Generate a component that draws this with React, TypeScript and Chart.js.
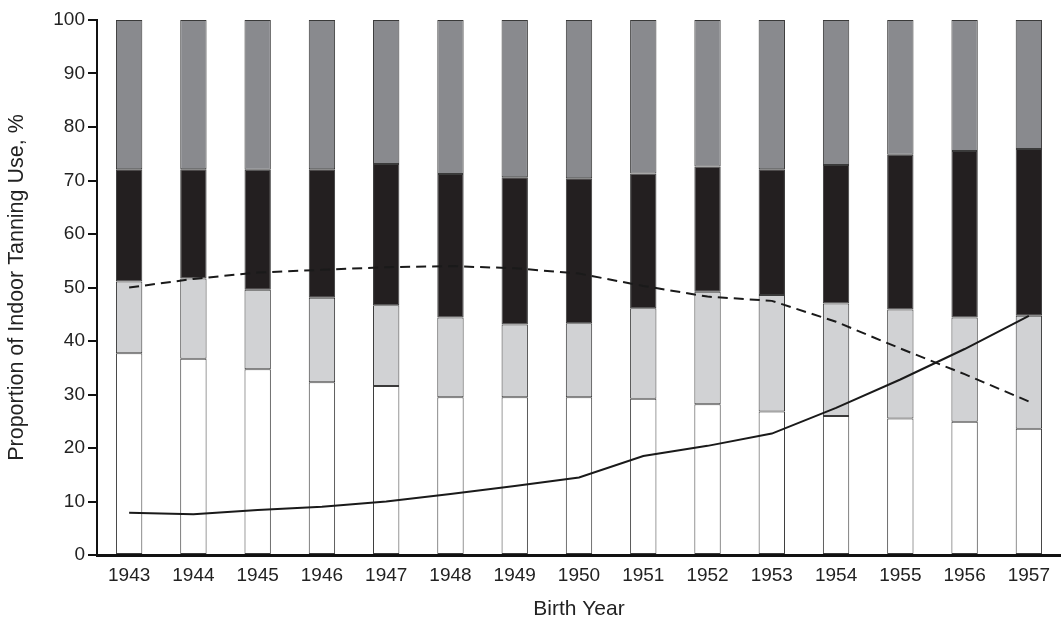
import React, { useEffect, useRef } from "react";
import { Chart, registerables } from "chart.js";

Chart.register(...registerables);

const years = ["1943","1944","1945","1946","1947","1948","1949","1950","1951","1952","1953","1954","1955","1956","1957"];
// cumulative tops, converted to segment values below
const whiteSeg = [37.7, 36.7, 34.7, 32.3, 31.6, 29.5, 29.5, 29.5, 29.2, 28.2, 26.8, 26.0, 25.5, 24.9, 23.6];
const lightTop = [51.1, 51.7, 49.6, 48.1, 46.7, 44.4, 43.1, 43.3, 46.1, 49.2, 48.6, 47.0, 45.9, 44.4, 44.7];
const blackTop = [72.1, 72.1, 72.0, 72.1, 73.1, 71.2, 70.6, 70.4, 71.3, 72.6, 72.1, 72.9, 74.8, 75.5, 75.9];
const dashedLine = [50.0, 51.6, 52.8, 53.3, 53.8, 54.0, 53.6, 52.6, 50.3, 48.3, 47.5, 43.6, 38.6, 33.8, 28.7];
const solidLine = [7.9, 7.6, 8.4, 9.0, 10.0, 11.4, 12.9, 14.5, 18.5, 20.4, 22.7, 27.5, 32.8, 38.5, 44.7];
const yTicks = [0, 10, 20, 30, 40, 50, 60, 70, 80, 90, 100];

const lightSeg = lightTop.map((v, i) => +(v - whiteSeg[i]).toFixed(2));
const blackSeg = blackTop.map((v, i) => +(v - lightTop[i]).toFixed(2));
const graySeg = blackTop.map((v) => +(100 - v).toFixed(2));

const FONT = "'Liberation Sans', Arial, Helvetica, sans-serif";

export default function App() {
  const ref = useRef<HTMLCanvasElement | null>(null);
  useEffect(() => {
    if (!ref.current) return;
    const barCommon = {
      type: "bar" as const,
      stack: "bars",
      order: 2,
      borderColor: "#3a3a3a",
      borderWidth: 1,
      borderSkipped: false,
      barPercentage: 0.41,
      categoryPercentage: 1.0,
    };
    const chart = new Chart(ref.current, {
      type: "bar",
      data: {
        labels: years,
        datasets: [
          { ...barCommon, label: "white", data: whiteSeg, backgroundColor: "#ffffff" },
          { ...barCommon, label: "light", data: lightSeg, backgroundColor: "#d1d2d4" },
          { ...barCommon, label: "black", data: blackSeg, backgroundColor: "#231f20" },
          { ...barCommon, label: "gray", data: graySeg, backgroundColor: "#898a8e" },
          {
            type: "line" as const,
            label: "dashed",
            data: dashedLine,
            stack: "l1",
            order: 0,
            borderColor: "#1a1a1a",
            borderWidth: 2,
            borderDash: [10, 6],
            pointRadius: 0,
            tension: 0,
            fill: false,
          },
          {
            type: "line" as const,
            label: "solid",
            data: solidLine,
            stack: "l2",
            order: 0,
            borderColor: "#1a1a1a",
            borderWidth: 2,
            pointRadius: 0,
            tension: 0,
            fill: false,
          },
        ] as any,
      },
      options: {
        animation: false,
        responsive: false,
        maintainAspectRatio: false,
        layout: { padding: { top: 20, right: 0, left: 0, bottom: 0 } },
        plugins: { legend: { display: false }, tooltip: { enabled: false } },
        scales: {
          x: {
            stacked: true,
            grid: { display: false, drawTicks: false },
            border: { display: true, color: "#111", width: 3 },
            ticks: { color: "#222", font: { family: FONT, size: 19 }, padding: 9, maxRotation: 0 },
            title: { display: true, text: "Birth Year", color: "#222", font: { family: FONT, size: 21 }, padding: { top: 0, bottom: 0 } },
            afterFit: (s: any) => { s.height = 67; },
          },
          y: {
            stacked: true,
            min: 0,
            max: 100,
            afterBuildTicks: (s: any) => { s.ticks = yTicks.map((v) => ({ value: v })); },
            grid: { drawOnChartArea: false, drawTicks: true, tickLength: 9, color: "#111", lineWidth: 2 },
            border: { display: true, color: "#111", width: 2 },
            ticks: { color: "#222", font: { family: FONT, size: 19 }, padding: 3 },
            title: { display: true, text: "Proportion of Indoor Tanning Use, %", color: "#222", font: { family: FONT, size: 21.5 }, padding: { top: 4, bottom: 0 } },
            afterFit: (s: any) => { s.width = 97; },
          },
        },
      },
    });
    return () => chart.destroy();
  }, []);
  return (
    <div style={{ position: "absolute", left: 0, top: 0, width: 1061, height: 622, background: "#fff" }}>
      <canvas ref={ref} width={1061} height={622} style={{ display: "block" }} />
    </div>
  );
}
